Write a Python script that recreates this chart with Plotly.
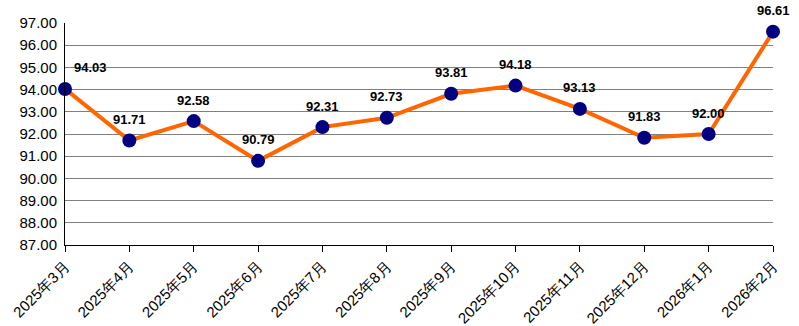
import plotly.graph_objects as go

months = ["2025年3月", "2025年4月", "2025年5月", "2025年6月", "2025年7月", "2025年8月",
          "2025年9月", "2025年10月", "2025年11月", "2025年12月", "2026年1月", "2026年2月"]
values = [94.03, 91.71, 92.58, 90.79, 92.31, 92.73, 93.81, 94.18, 93.13, 91.83, 92.00, 96.61]
y_ticks = [87, 88, 89, 90, 91, 92, 93, 94, 95, 96, 97]

xs = list(range(len(months)))

fig = go.Figure()
fig.add_trace(go.Scatter(
    x=xs, y=values, mode="lines+markers",
    line=dict(color="#FF6600", width=4),
    marker=dict(color="#000080", size=14),
    cliponaxis=False, hoverinfo="skip",
))

for i, (x, v) in enumerate(zip(xs, values)):
    xshift = 25 if i == 0 else 0
    fig.add_annotation(x=x, y=v, text=f"<b>{v:.2f}</b>", showarrow=False,
                       yshift=21, xshift=xshift,
                       font=dict(family="Liberation Sans, Arial", size=13, color="#000000"))

fig.update_layout(
    width=799, height=326,
    margin=dict(l=65, r=26, t=23, b=81),
    paper_bgcolor="white", plot_bgcolor="white",
    showlegend=False,
    font=dict(family="Liberation Sans, Arial", size=15, color="#000000"),
    xaxis=dict(
        tickmode="array", tickvals=xs, ticktext=months, range=[0, len(xs) - 1],
        tickangle=-45, showgrid=False, zeroline=False, automargin=False,
        showline=True, linecolor="#000000", linewidth=1,
        ticks="outside", ticklen=6, tickcolor="#000000",
        tickfont=dict(family="Liberation Sans, Arial", size=15, color="#000000"),
    ),
    yaxis=dict(
        range=[87, 97], tickvals=y_ticks, ticktext=[f"{t:.2f}" for t in y_ticks],
        showgrid=True, gridcolor="#808080", gridwidth=1, zeroline=False, automargin=False,
        showline=True, linecolor="#000000", linewidth=1,
        ticks="", ticklabelstandoff=4,
        tickfont=dict(family="Liberation Sans, Arial", size=15, color="#000000"),
    ),
)

fig.write_html("out.html")
